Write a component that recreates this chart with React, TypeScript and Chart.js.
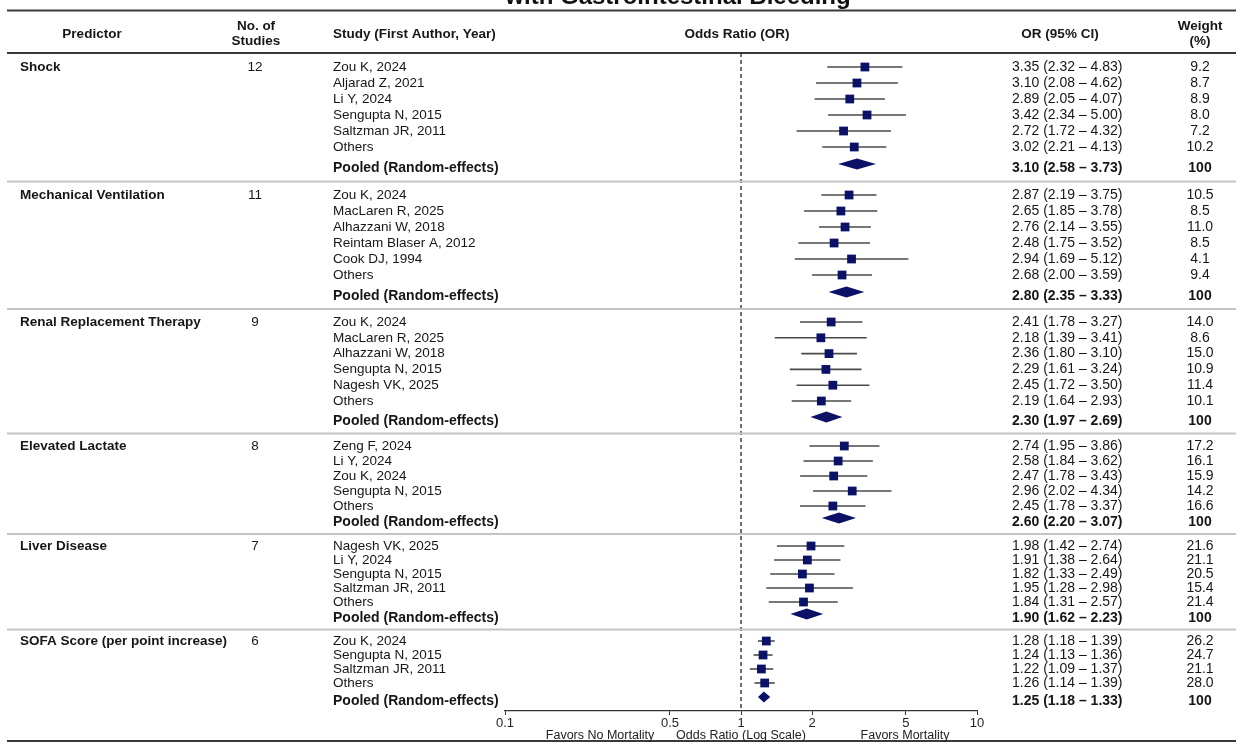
import React, { useEffect, useRef } from "react";
import { Chart, registerables } from "chart.js";

Chart.register(...registerables);

// ---------------- DATA ----------------
const TITLE = "with Gastrointestinal Bleeding";
const PREDICTORS = [
  "Shock",
  "Mechanical Ventilation",
  "Renal Replacement Therapy",
  "Elevated Lactate",
  "Liver Disease",
  "SOFA Score (per point increase)",
];
const NUM_STUDIES = [12, 11, 9, 8, 7, 6];
const STUDIES = [
  ["Zou K, 2024", "Aljarad Z, 2021", "Li Y, 2024", "Sengupta N, 2015", "Saltzman JR, 2011", "Others"],
  ["Zou K, 2024", "MacLaren R, 2025", "Alhazzani W, 2018", "Reintam Blaser A, 2012", "Cook DJ, 1994", "Others"],
  ["Zou K, 2024", "MacLaren R, 2025", "Alhazzani W, 2018", "Sengupta N, 2015", "Nagesh VK, 2025", "Others"],
  ["Zeng F, 2024", "Li Y, 2024", "Zou K, 2024", "Sengupta N, 2015", "Others"],
  ["Nagesh VK, 2025", "Li Y, 2024", "Sengupta N, 2015", "Saltzman JR, 2011", "Others"],
  ["Zou K, 2024", "Sengupta N, 2015", "Saltzman JR, 2011", "Others"],
];
const OR = [
  [3.35, 3.10, 2.89, 3.42, 2.72, 3.02],
  [2.87, 2.65, 2.76, 2.48, 2.94, 2.68],
  [2.41, 2.18, 2.36, 2.29, 2.45, 2.19],
  [2.74, 2.58, 2.47, 2.96, 2.45],
  [1.98, 1.91, 1.82, 1.95, 1.84],
  [1.28, 1.24, 1.22, 1.26],
];
const LOWER = [
  [2.32, 2.08, 2.05, 2.34, 1.72, 2.21],
  [2.19, 1.85, 2.14, 1.75, 1.69, 2.00],
  [1.78, 1.39, 1.80, 1.61, 1.72, 1.64],
  [1.95, 1.84, 1.78, 2.02, 1.78],
  [1.42, 1.38, 1.33, 1.28, 1.31],
  [1.18, 1.13, 1.09, 1.14],
];
const UPPER = [
  [4.83, 4.62, 4.07, 5.00, 4.32, 4.13],
  [3.75, 3.78, 3.55, 3.52, 5.12, 3.59],
  [3.27, 3.41, 3.10, 3.24, 3.50, 2.93],
  [3.86, 3.62, 3.43, 4.34, 3.37],
  [2.74, 2.64, 2.49, 2.98, 2.57],
  [1.39, 1.36, 1.37, 1.39],
];
const WEIGHT = [
  [9.2, 8.7, 8.9, 8.0, 7.2, 10.2],
  [10.5, 8.5, 11.0, 8.5, 4.1, 9.4],
  [14.0, 8.6, 15.0, 10.9, 11.4, 10.1],
  [17.2, 16.1, 15.9, 14.2, 16.6],
  [21.6, 21.1, 20.5, 15.4, 21.4],
  [26.2, 24.7, 21.1, 28.0],
];
const POOLED_LABEL = "Pooled (Random-effects)";
const POOLED_OR = [3.10, 2.80, 2.30, 2.60, 1.90, 1.25];
const POOLED_LOWER = [2.58, 2.35, 1.97, 2.20, 1.62, 1.18];
const POOLED_UPPER = [3.73, 3.33, 2.69, 3.07, 2.23, 1.33];
const POOLED_WEIGHT = "100";
const X_TICKS = [0.1, 0.5, 1, 2, 5, 10];
const AXIS_LEFT_LABEL = "Favors No Mortality";
const AXIS_TITLE = "Odds Ratio (Log Scale)";
const AXIS_RIGHT_LABEL = "Favors Mortality";

// ---------------- LAYOUT / STYLE ----------------
const W = 1243;
const H = 743;
const FONT = '"Liberation Sans", Arial, Helvetica, sans-serif';
const NAVY = "#0b1167";
const TEXT = "#161616";
// row layout in y-scale units
const Y_MIN = 53;
const Y_MAX = 711;
const SECTION_TOP = [67, 195, 322, 446, 546, 641];
const ROW_STEP = [16, 16, 15.8, 15, 14, 14];
const POOLED_GAP = [21, 21, 20, 16, 16, 18];

function layoutRows() {
  const studyY: number[][] = [];
  const pooledY: number[] = [];
  const sepY: number[] = [];
  SECTION_TOP.forEach((top, s) => {
    const ys = STUDIES[s].map((_, i) => top + i * ROW_STEP[s]);
    studyY.push(ys);
    pooledY.push(ys[ys.length - 1] + POOLED_GAP[s]);
  });
  for (let s = 0; s < SECTION_TOP.length - 1; s++) {
    sepY.push((pooledY[s] + SECTION_TOP[s + 1]) / 2);
  }
  return { studyY, pooledY, sepY };
}

const fmtCI = (v: number, lo: number, hi: number) =>
  `${v.toFixed(2)} (${lo.toFixed(2)} \u2013 ${hi.toFixed(2)})`;

const forestPlugin = {
  id: "forest",
  beforeDatasetsDraw(chart: any) {
    const { ctx, chartArea } = chart;
    const x = chart.scales.x;
    const y = chart.scales.y;
    const L = layoutRows();
    ctx.save();
    // null line
    const x1 = x.getPixelForValue(1);
    ctx.strokeStyle = "#111";
    ctx.lineWidth = 1.2;
    ctx.setLineDash([4, 3]);
    ctx.beginPath();
    ctx.moveTo(x1, chartArea.top);
    ctx.lineTo(x1, chartArea.bottom);
    ctx.stroke();
    ctx.setLineDash([]);
    // whiskers
    ctx.strokeStyle = "#4a4a4a";
    ctx.lineWidth = 1.6;
    OR.forEach((sec, s) =>
      sec.forEach((_, i) => {
        const yy = y.getPixelForValue(L.studyY[s][i]);
        ctx.beginPath();
        ctx.moveTo(x.getPixelForValue(LOWER[s][i]), yy);
        ctx.lineTo(x.getPixelForValue(UPPER[s][i]), yy);
        ctx.stroke();
      })
    );
    // pooled diamonds
    ctx.fillStyle = NAVY;
    POOLED_OR.forEach((v, s) => {
      const yy = y.getPixelForValue(L.pooledY[s]) - 4;
      const xl = x.getPixelForValue(POOLED_LOWER[s]);
      const xr = x.getPixelForValue(POOLED_UPPER[s]);
      const xc = x.getPixelForValue(v);
      const hh = 5.5;
      ctx.beginPath();
      ctx.moveTo(xl, yy);
      ctx.lineTo(xc, yy - hh);
      ctx.lineTo(xr, yy);
      ctx.lineTo(xc, yy + hh);
      ctx.closePath();
      ctx.fill();
    });
    ctx.restore();
  },
  afterDraw(chart: any) {
    const { ctx } = chart;
    const x = chart.scales.x;
    const y = chart.scales.y;
    const L = layoutRows();
    ctx.save();

    // title (clipped at top)
    ctx.fillStyle = "#111";
    ctx.font = `bold 24px ${FONT}`;
    ctx.textAlign = "center";
    ctx.textBaseline = "alphabetic";
    ctx.fillText(TITLE, 678, 4);

    // rules
    const rule = (yy: number, color: string, lw: number) => {
      ctx.strokeStyle = color;
      ctx.lineWidth = lw;
      ctx.beginPath();
      ctx.moveTo(7, yy);
      ctx.lineTo(1236, yy);
      ctx.stroke();
    };
    rule(10.5, "#3a3a3a", 2);
    rule(y.getPixelForValue(Y_MIN), "#3a3a3a", 2);
    rule(741, "#3a3a3a", 2);
    L.sepY.forEach((v) => rule(y.getPixelForValue(v), "#c4c4c4", 2));

    // header
    ctx.fillStyle = TEXT;
    ctx.textBaseline = "middle";
    ctx.font = `bold 13.5px ${FONT}`;
    ctx.textAlign = "center";
    ctx.fillText("Predictor", 92, 34);
    ctx.fillText("No. of", 256, 26);
    ctx.fillText("Studies", 256, 41);
    ctx.fillText("Odds Ratio (OR)", 737, 34);
    ctx.fillText("OR (95% CI)", 1060, 34);
    ctx.fillText("Weight", 1200, 26);
    ctx.fillText("(%)", 1200, 41);
    ctx.textAlign = "left";
    ctx.fillText("Study (First Author, Year)", 333, 34);

    // body
    PREDICTORS.forEach((p, s) => {
      const y0 = y.getPixelForValue(L.studyY[s][0]);
      ctx.font = `bold 13.5px ${FONT}`;
      ctx.textAlign = "left";
      ctx.fillText(p, 20, y0);
      ctx.font = `13.5px ${FONT}`;
      ctx.textAlign = "center";
      ctx.fillText(String(NUM_STUDIES[s]), 255, y0);

      STUDIES[s].forEach((name, i) => {
        const yy = y.getPixelForValue(L.studyY[s][i]);
        ctx.font = `13.5px ${FONT}`;
        ctx.textAlign = "left";
        ctx.fillText(name, 333, yy);
        ctx.font = `14px ${FONT}`;
        ctx.fillText(fmtCI(OR[s][i], LOWER[s][i], UPPER[s][i]), 1012, yy);
        ctx.textAlign = "center";
        ctx.fillText(WEIGHT[s][i].toFixed(1), 1200, yy);
      });

      const yp = y.getPixelForValue(L.pooledY[s]);
      ctx.font = `bold 14px ${FONT}`;
      ctx.textAlign = "left";
      ctx.fillText(POOLED_LABEL, 333, yp);
      ctx.fillText(fmtCI(POOLED_OR[s], POOLED_LOWER[s], POOLED_UPPER[s]), 1012, yp);
      ctx.textAlign = "center";
      ctx.fillText(POOLED_WEIGHT, 1200, yp);
    });

    // axis annotations
    ctx.font = `12.5px ${FONT}`;
    ctx.textAlign = "center";
    ctx.fillStyle = "#222";
    ctx.fillText(AXIS_LEFT_LABEL, 600, 736);
    ctx.fillText(AXIS_TITLE, x.getPixelForValue(1), 736);
    ctx.fillText(AXIS_RIGHT_LABEL, 905, 736);

    ctx.restore();
  },
};

export default function App() {
  const ref = useRef<HTMLCanvasElement | null>(null);
  useEffect(() => {
    if (!ref.current) return;
    const L = layoutRows();
    const points: { x: number; y: number }[] = [];
    OR.forEach((sec, s) => sec.forEach((v, i) => points.push({ x: v, y: L.studyY[s][i] })));

    const chart = new Chart(ref.current, {
      type: "scatter",
      data: {
        datasets: [
          {
            data: points,
            pointStyle: "rect",
            pointRadius: 6.2,
            pointHoverRadius: 6.2,
            backgroundColor: NAVY,
            borderColor: NAVY,
            borderWidth: 0,
          },
        ],
      },
      options: {
        animation: false,
        responsive: true,
        maintainAspectRatio: false,
        layout: { padding: { left: 505, right: W - 977, top: Y_MIN, bottom: 0 } },
        plugins: { legend: { display: false }, tooltip: { enabled: false } },
        scales: {
          x: {
            type: "logarithmic",
            min: 0.1,
            max: 10,
            position: "bottom",
            afterBuildTicks: (s: any) => {
              s.ticks = X_TICKS.map((v) => ({ value: v }));
            },
            afterFit: (s: any) => {
              s.height = H - Y_MAX;
            },
            grid: { display: true, drawOnChartArea: false, drawTicks: true, tickLength: 4, color: "#333", lineWidth: 1 },
            border: { display: true, color: "#333", width: 1.2 },
            ticks: {
              callback: (v: any) => String(v),
              color: "#222",
              font: { family: FONT, size: 13 },
              padding: 1,
              maxRotation: 0,
              autoSkip: false,
            },
          },
          y: { type: "linear", display: false, min: Y_MIN, max: Y_MAX, reverse: true },
        },
      },
      plugins: [forestPlugin],
    });
    return () => chart.destroy();
  }, []);

  return (
    <div style={{ position: "fixed", left: 0, top: 0, width: W, height: H, background: "#fff" }}>
      <canvas ref={ref} />
    </div>
  );
}
